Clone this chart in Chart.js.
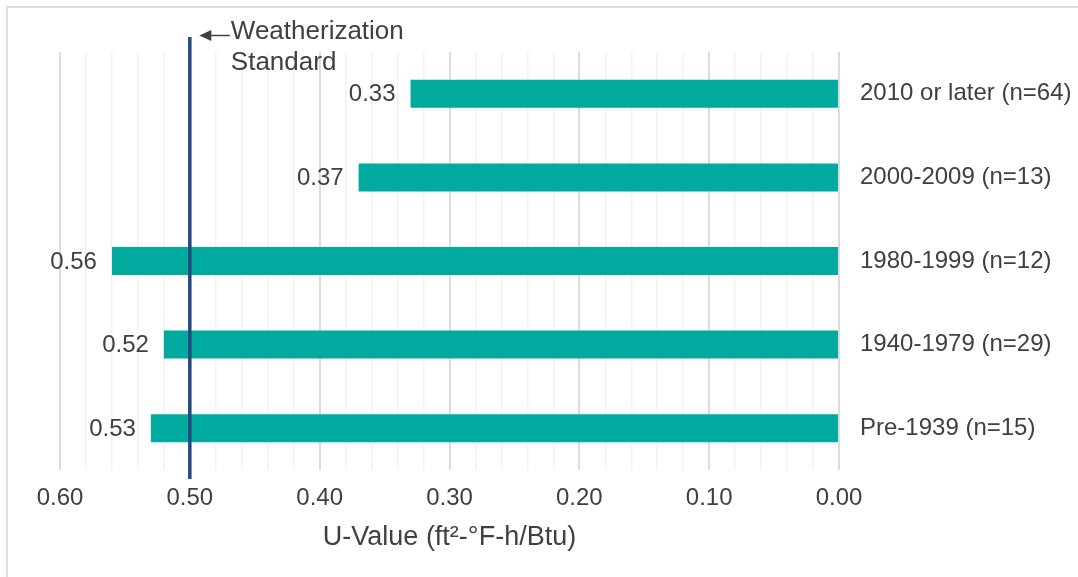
<!DOCTYPE html>
<html>
<head>
<meta charset="utf-8">
<title>U-Value by Vintage</title>
<script src="https://cdn.jsdelivr.net/npm/chart.js@4/dist/chart.umd.min.js"></script>
<style>
  html, body { margin: 0; padding: 0; background: #ffffff; }
  #wrap { position: relative; width: 1078px; height: 577px; }
</style>
</head>
<body>
<div id="wrap"><canvas id="chart"></canvas></div>
<script>
// Vintage groups (top to bottom) and their average U-values
const categories = ['2010 or later (n=64)', '2000-2009 (n=13)', '1980-1999 (n=12)', '1940-1979 (n=29)', 'Pre-1939 (n=15)'];
const uValues = [0.33, 0.37, 0.56, 0.52, 0.53];
const weatherizationStandard = 0.50;
const standardLabel = ['Weatherization', 'Standard'];
const axisTitle = 'U-Value (ft\u00B2-\u00B0F-h/Btu)';

const TEXT = '#404040';
const FONT = '"Liberation Sans", Arial, sans-serif';

// Thin frame along the top and left edges of the canvas
const framePlugin = {
  id: 'frame',
  beforeDraw(chart) {
    const ctx = chart.ctx;
    ctx.save();
    ctx.strokeStyle = '#dedede';
    ctx.lineWidth = 2;
    ctx.beginPath();
    ctx.moveTo(7, chart.height);
    ctx.lineTo(7, 7);
    ctx.lineTo(chart.width, 7);
    ctx.stroke();
    ctx.restore();
  }
};

// Value labels to the left of each bar end
const valueLabelPlugin = {
  id: 'valueLabels',
  afterDatasetsDraw(chart) {
    const ctx = chart.ctx;
    const meta = chart.getDatasetMeta(0);
    ctx.save();
    ctx.fillStyle = TEXT;
    ctx.font = '24px ' + FONT;
    ctx.textAlign = 'right';
    ctx.textBaseline = 'middle';
    meta.data.forEach((bar, i) => {
      ctx.fillText(uValues[i].toFixed(2), bar.x - 15, bar.y + 1);
    });
    ctx.restore();
  }
};

// Vertical reference line for the weatherization standard, with its arrow label
const standardPlugin = {
  id: 'standardLine',
  afterDatasetsDraw(chart) {
    const ctx = chart.ctx;
    const xScale = chart.scales.x;
    const area = chart.chartArea;
    const x = xScale.getPixelForValue(weatherizationStandard);
    ctx.save();
    ctx.strokeStyle = '#1F4A7C';
    ctx.lineWidth = 3.5;
    ctx.beginPath();
    ctx.moveTo(x, area.top - 15);
    ctx.lineTo(x, area.bottom + 9);
    ctx.stroke();

    // arrow pointing at the line
    const ay = area.top - 16.5;
    const tip = x + 9.5;
    ctx.strokeStyle = TEXT;
    ctx.fillStyle = TEXT;
    ctx.lineWidth = 1.5;
    ctx.beginPath();
    ctx.moveTo(tip + 8, ay);
    ctx.lineTo(x + 40, ay);
    ctx.stroke();
    ctx.beginPath();
    ctx.moveTo(tip, ay);
    ctx.lineTo(tip + 12, ay - 5.5);
    ctx.lineTo(tip + 12, ay + 5.5);
    ctx.closePath();
    ctx.fill();

    ctx.font = '26px ' + FONT;
    ctx.textAlign = 'left';
    ctx.textBaseline = 'alphabetic';
    ctx.fillText(standardLabel[0], x + 41, area.top - 13.5);
    ctx.fillText(standardLabel[1], x + 41, area.top + 18);
    ctx.restore();
  }
};

new Chart(document.getElementById('chart'), {
  type: 'bar',
  data: {
    labels: categories,
    datasets: [{
      data: uValues,
      backgroundColor: '#00AA9E',
      borderWidth: 0,
      categoryPercentage: 1,
      barPercentage: 0.335
    }]
  },
  options: {
    indexAxis: 'y',
    responsive: true,
    maintainAspectRatio: false,
    animation: false,
    layout: { padding: { left: 60, top: 52, right: 0, bottom: 0 } },
    plugins: {
      legend: { display: false },
      tooltip: { enabled: false }
    },
    scales: {
      x: {
        reverse: true,
        min: 0,
        max: 0.6,
        border: { display: false },
        grid: {
          drawTicks: false,
          color: (c) => (Math.round(c.tick.value * 100) % 10 === 0 ? '#dcdcdc' : '#f2f2f2'),
          lineWidth: (c) => (Math.round(c.tick.value * 100) % 10 === 0 ? 2 : 1.5)
        },
        ticks: {
          stepSize: 0.02,
          autoSkip: false,
          maxRotation: 0,
          padding: 14,
          color: TEXT,
          font: { family: FONT, size: 24 },
          callback: (v) => (Math.round(v * 100) % 10 === 0 ? Number(v).toFixed(2) : '')
        },
        title: {
          display: true,
          text: axisTitle,
          color: TEXT,
          font: { family: FONT, size: 27 },
          padding: { top: 8, bottom: 23 }
        },
        afterFit: (scale) => { scale.height = 107; }
      },
      y: {
        position: 'right',
        border: { display: false },
        grid: { display: false, drawTicks: false },
        ticks: {
          padding: 21,
          color: TEXT,
          font: { family: FONT, size: 24 }
        },
        afterFit: (scale) => { scale.width = 239; }
      }
    }
  },
  plugins: [framePlugin, valueLabelPlugin, standardPlugin]
});
</script>
</body>
</html>
